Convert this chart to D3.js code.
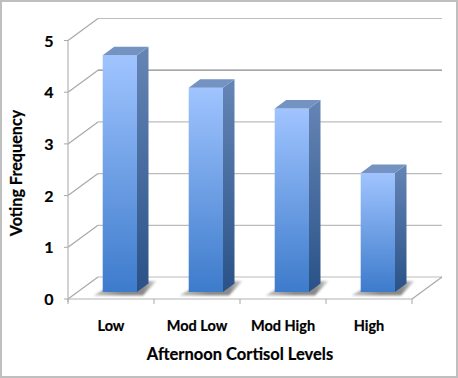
<!DOCTYPE html>
<html><head><meta charset="utf-8">
<script src="https://cdn.jsdelivr.net/npm/d3@7/dist/d3.min.js"></script>
<style>html,body{margin:0;padding:0;background:#fff}svg{display:block}text{font-family:Lato,Carlito,sans-serif;font-weight:700;fill:#000;stroke:#000;stroke-width:.2px}</style>
</head><body><svg id="c" width="458" height="378"></svg>
<script>
const categories = ["Low","Mod Low","Mod High","High"];
const values = [4.58,3.95,3.55,2.3];
const yTicks = [0,1,2,3,4,5];
const yTitle = "Voting Frequency";
const xTitle = "Afternoon Cortisol Levels";

const W=458,H=378;
const svg=d3.select("#c");
const y=d3.scaleLinear().domain([0,5]).range([299,40.5]);
const x=d3.scaleBand().domain(categories).range([68,412]);
const depthX=30,depthY=-22;
const defs=svg.append("defs");
function grad(id,stops,hor){
  const g=defs.append("linearGradient").attr("id",id).attr("x1",0).attr("y1",0).attr("x2",hor?1:0).attr("y2",hor?0:1);
  stops.forEach(s=>g.append("stop").attr("offset",s[0]).attr("stop-color",s[1]));
}
grad("front",[[0,"#a0c4ff"],[1,"#3d7bcb"]]);
grad("side",[[0,"#6585b5"],[1,"#2a5288"]]);
grad("shade",[[0,"#c4c4c4"],[.45,"#8a8a8a"],[.8,"#8a8a8a"],[1,"#e0e0e0"]],true);
defs.append("filter").attr("id","blur").attr("x","-30%").attr("y","-50%").attr("width","160%").attr("height","200%")
  .append("feGaussianBlur").attr("stdDeviation",1);

// frame
svg.append("rect").attr("x",1).attr("y",1).attr("width",W-2).attr("height",H-2).attr("fill","#fff").attr("stroke","#bfbfbf").attr("stroke-width",2);

// walls and gridlines
const gridColor=t=>t===4?"#8a8a8a":"#bcbcbc";
const x0=x.range()[0],x1=x.range()[1];
yTicks.forEach(t=>{
  const g=svg.append("g").attr("fill","none").attr("stroke-width",1.2);
  g.append("path").attr("d",`M${x0},${y(t)}L${x0+depthX},${y(t)+depthY}`).attr("stroke","#a8a8a8");
  g.append("line").attr("x1",x0+depthX).attr("x2",x1+depthX).attr("y1",y(t)+depthY).attr("y2",y(t)+depthY).attr("stroke",gridColor(t));
  svg.append("line").attr("x1",x0-4).attr("x2",x0).attr("y1",y(t)).attr("y2",y(t)).attr("stroke","#a8a8a8");
});
svg.append("path").attr("d",`M${x1},${y(0)}L${x1+depthX},${y(0)+depthY}`).attr("fill","none").attr("stroke","#a8a8a8").attr("stroke-width",1.2);
svg.append("line").attr("x1",x0).attr("x2",x0).attr("y1",y(0)+3).attr("y2",y(5)).attr("stroke","#b4b4b4").attr("stroke-width",1.2);
svg.append("line").attr("x1",x0).attr("x2",x1).attr("y1",y(0)).attr("y2",y(0)).attr("stroke","#b4b4b4").attr("stroke-width",1.2);
x.domain().forEach(c=>svg.append("line").attr("x1",x(c)).attr("x2",x(c)).attr("y1",y(0)).attr("y2",y(0)+5).attr("stroke","#a8a8a8"));
svg.append("line").attr("x1",x1).attr("x2",x1).attr("y1",y(0)).attr("y2",y(0)+5).attr("stroke","#a8a8a8");

// bars
const barInsetX=34.7,barW=34.3,sideX=11.5,sideY=-8.5,baseLift=7;
categories.forEach((c,i)=>{
  const bx=x(c)+barInsetX,bb=y(0)-baseLift,bt=y(values[i])-baseLift;
  const r=bx+barW;
  svg.append("path").attr("filter","url(#blur)").attr("fill","url(#shade)")
    .attr("d",`M${bx-9},${bb+3.5}L${bx},${bb-2}L${r+sideX},${bb+sideY-2.5}L${r+sideX+8},${bb+sideY-2.5}L${r+6},${bb+3.5}Z`);
  svg.append("rect").attr("x",bx).attr("y",bt).attr("width",barW).attr("height",bb-bt).attr("fill","url(#front)");
  svg.append("path").attr("fill","url(#side)").attr("d",`M${r},${bt}L${r+sideX},${bt+sideY}L${r+sideX},${bb+sideY}L${r},${bb}Z`);
  svg.append("path").attr("fill","#7593c2").attr("d",`M${bx},${bt}L${bx+sideX},${bt+sideY}L${r+sideX},${bt+sideY}L${r},${bt}Z`);
});

// labels
yTicks.forEach(t=>svg.append("text").attr("x",49).attr("y",y(t)+6).attr("text-anchor","middle").attr("font-size",16).text(t));
categories.forEach(c=>svg.append("text").attr("x",x(c)+x.bandwidth()/2).attr("y",331).attr("text-anchor","middle").attr("font-size",14.5).text(c));
svg.append("text").attr("x",240).attr("y",360).attr("text-anchor","middle").attr("font-size",16.5).text(xTitle);
svg.append("text").attr("transform","translate(22,173) rotate(-90)").attr("text-anchor","middle").attr("font-size",16.2).text(yTitle);
</script></body></html>
